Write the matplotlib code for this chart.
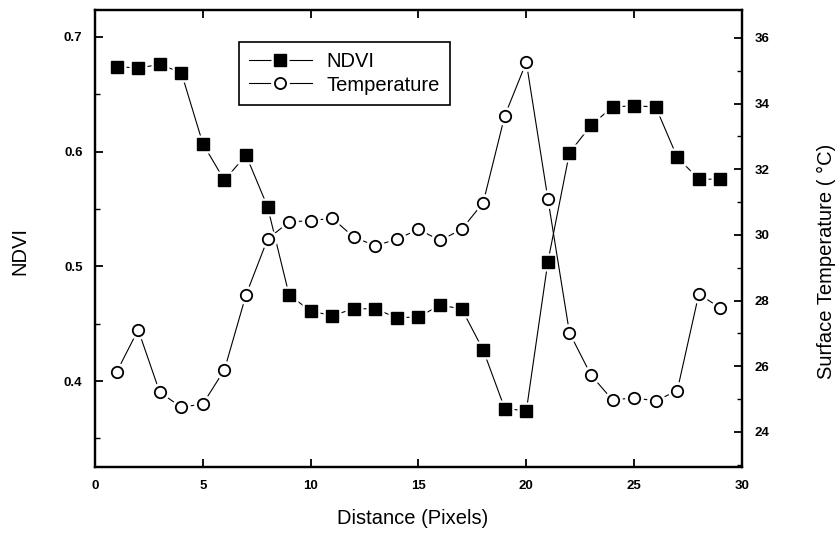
import matplotlib.pyplot as plt
from matplotlib.lines import Line2D
from matplotlib.legend_handler import HandlerTuple
from matplotlib.ticker import MultipleLocator

plt.rcParams["font.family"] = ["Liberation Sans", "DejaVu Sans"]

# data
distance = list(range(1, 30))
ndvi = [0.674, 0.673, 0.676, 0.669, 0.607, 0.575, 0.597, 0.552, 0.475, 0.461,
        0.457, 0.463, 0.463, 0.455, 0.456, 0.466, 0.463, 0.427, 0.376, 0.374,
        0.504, 0.599, 0.623, 0.639, 0.640, 0.639, 0.595, 0.576, 0.576]
temperature = [25.82, 27.11, 25.21, 24.75, 24.85, 25.89, 28.17, 29.87, 30.40, 30.43,
               30.51, 29.93, 29.67, 29.87, 30.17, 29.83, 30.17, 30.98, 33.63, 35.26,
               31.10, 27.02, 25.73, 24.97, 25.04, 24.94, 25.26, 28.20, 27.77]

fig = plt.figure(figsize=(8.38, 5.33), dpi=100)
ax = fig.add_axes([0.1134, 0.1238, 0.772, 0.8574])
ax2 = ax.twinx()

# lines with a small gap round each symbol
ax.plot(distance, ndvi, color="k", lw=0.8, zorder=1)
ax.plot(distance, ndvi, ls="none", marker="s", ms=13.5, mfc="white", mec="none", zorder=2)
ax.plot(distance, ndvi, ls="none", marker="s", ms=8.6, mfc="k", mec="k", zorder=3)

ax2.plot(distance, temperature, color="k", lw=0.8, zorder=1)
ax2.plot(distance, temperature, ls="none", marker="o", ms=13.5, mfc="white", mec="none", zorder=2)
ax2.plot(distance, temperature, ls="none", marker="o", ms=8.2, mfc="white", mec="k", mew=1.3, zorder=3)

ax.set_xlim(0, 30)
ax.set_ylim(0.325, 0.7235)
ax2.set_ylim(22.93, 36.85)

ax.xaxis.set_major_locator(MultipleLocator(5))
ax.yaxis.set_major_locator(MultipleLocator(0.1))
ax.yaxis.set_minor_locator(MultipleLocator(0.05))
ax2.yaxis.set_major_locator(MultipleLocator(2))
ax2.yaxis.set_minor_locator(MultipleLocator(1))

for a in (ax, ax2):
    for s in a.spines.values():
        s.set_linewidth(1.6)
ax.tick_params(axis="x", which="major", direction="in", top=True, length=6, width=1.3, pad=9)
ax.tick_params(axis="y", which="major", direction="in", length=6, width=1.3, pad=9)
ax.tick_params(axis="y", which="minor", direction="in", length=3.5, width=1)
ax2.tick_params(axis="y", which="major", direction="in", length=6, width=1.3, pad=9)
ax2.tick_params(axis="y", which="minor", direction="in", length=3.5, width=1)

ax.set_xticks([0, 5, 10, 15, 20, 25, 30])
ax.set_yticks([0.4, 0.5, 0.6, 0.7])
ax.set_yticklabels(["0.4", "0.5", "0.6", "0.7"])
ax2.set_yticks([24, 26, 28, 30, 32, 34, 36])
for lab in ax.get_xticklabels() + ax.get_yticklabels() + ax2.get_yticklabels():
    lab.set_fontsize(9.5)
    lab.set_fontweight("bold")

ax.set_xlabel("Distance (Pixels)", fontsize=14.5)
ax.xaxis.set_label_coords(0.491, -0.112)
ax.xaxis.label.set_va("center")
ax.set_ylabel("NDVI", fontsize=14.5)
ax.yaxis.set_label_coords(-0.116, 0.473)
ax.yaxis.label.set_va("center")
ax2.set_ylabel("Surface Temperature ( °C)", fontsize=14.5)
ax2.yaxis.set_label_coords(1.13, 0.449)
ax2.yaxis.label.set_va("center")

# legend entries drawn as line + gap + symbol
h_ndvi = (Line2D([], [], color="k", lw=0.8),
          Line2D([], [], ls="none", marker="s", ms=13.5, mfc="white", mec="none"),
          Line2D([], [], ls="none", marker="s", ms=8.4, mfc="k", mec="k"))
h_temp = (Line2D([], [], color="k", lw=0.8),
          Line2D([], [], ls="none", marker="o", ms=13.5, mfc="white", mec="none"),
          Line2D([], [], ls="none", marker="o", ms=8, mfc="white", mec="k", mew=1.3))
leg = ax2.legend([h_ndvi, h_temp], ["NDVI", "Temperature"],
                 handler_map={tuple: HandlerTuple(ndivide=1)},
                 loc="upper left", bbox_to_anchor=(0.2226, 0.930), borderaxespad=0,
                 fontsize=14.5, handlelength=3.1, handletextpad=0.75,
                 labelspacing=0.22, borderpad=0.5, fancybox=False,
                 edgecolor="k", framealpha=1)
leg.get_frame().set_linewidth(1.2)

fig.savefig("out.png", dpi=100)
